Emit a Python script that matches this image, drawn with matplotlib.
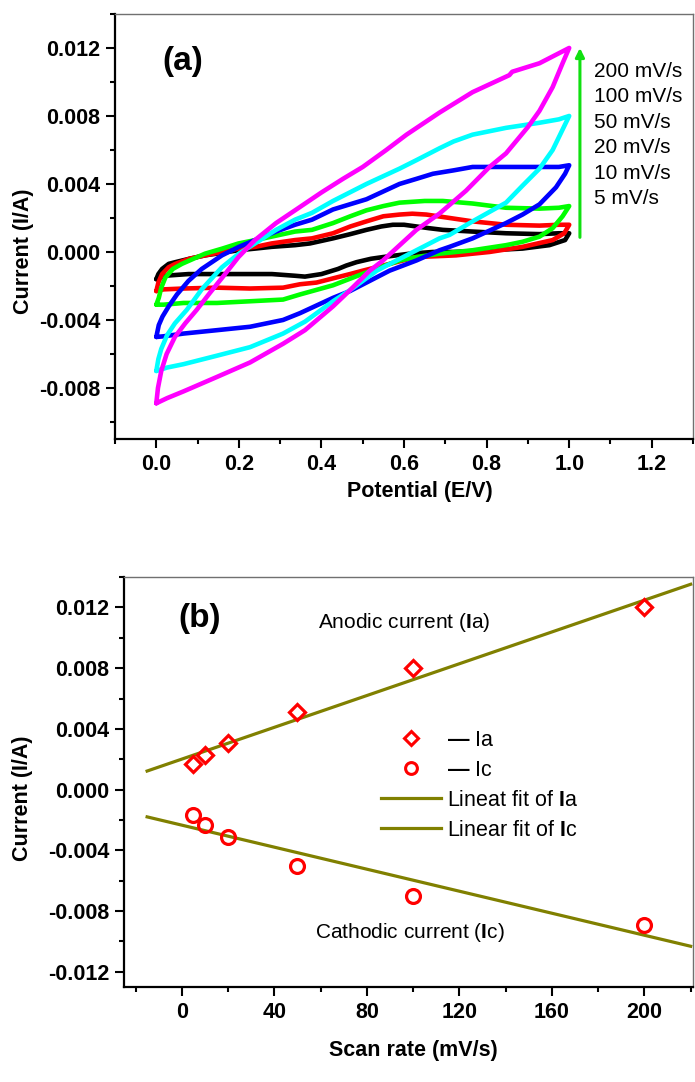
import numpy as np
import matplotlib
matplotlib.use('Agg')
import matplotlib.pyplot as plt
from matplotlib.lines import Line2D
from matplotlib.ticker import MultipleLocator, FormatStrFormatter

plt.rcParams['font.family'] = ['Liberation Sans', 'DejaVu Sans']
plt.rcParams['font.weight'] = 'bold'
plt.rcParams['axes.labelweight'] = 'bold'
plt.rcParams['mathtext.fontset'] = 'custom'
plt.rcParams['mathtext.rm'] = 'Liberation Sans'
plt.rcParams['mathtext.bf'] = 'Liberation Sans:bold'

# ---- panel (a): CV loops, forward sweep 0 -> 1 V then reverse 1 -> 0 V
e_5 = [0.0, 0.005, 0.014, 0.03, 0.046, 0.08, 0.118, 0.16, 0.199, 0.24, 0.279, 0.336, 0.372, 0.428,
       0.47, 0.509, 0.545, 0.573, 0.60, 0.63, 0.66, 0.694, 0.73, 0.766, 0.847, 0.928, 0.975, 1.0,
       0.99, 0.952, 0.887, 0.807, 0.72, 0.67, 0.614, 0.549, 0.52, 0.485, 0.46, 0.44, 0.40, 0.36,
       0.336, 0.28, 0.239, 0.15, 0.078, 0.02, 0.0]
i_5 = [-0.0016, -0.0013, -0.0010, -0.0007, -0.0006, -0.0004, -0.0002, -0.00005, 0.0001, 0.0002,
       0.0003, 0.0004, 0.0005, 0.0008, 0.00105, 0.0013, 0.0015, 0.0016, 0.0016, 0.0015, 0.0014,
       0.0013, 0.00125, 0.0012, 0.0011, 0.00105, 0.0011, 0.0011,
       0.0007, 0.0004, 0.0002, 0.0001, 0.0, 0.0, -0.0001, -0.0003, -0.0004, -0.0006, -0.0008,
       -0.0010, -0.0013, -0.00145, -0.0014, -0.0013, -0.0013, -0.0013, -0.0013, -0.0014, -0.0016]

e_10 = [0.0, 0.005, 0.014, 0.03, 0.046, 0.08, 0.118, 0.16, 0.199, 0.24, 0.279, 0.336, 0.377, 0.428,
        0.47, 0.509, 0.55, 0.589, 0.62, 0.654, 0.71, 0.766, 0.847, 0.928, 0.975, 1.0,
        0.988, 0.96, 0.887, 0.807, 0.726, 0.63, 0.549, 0.5, 0.469, 0.388, 0.348, 0.307, 0.227,
        0.147, 0.066, 0.018, 0.0]
i_10 = [-0.0023, -0.0018, -0.0013, -0.0009, -0.0007, -0.0004, -0.0002, 0.0, 0.0002, 0.0003, 0.0005,
        0.0007, 0.0008, 0.0011, 0.0015, 0.0018, 0.0021, 0.0022, 0.00225, 0.0022, 0.0020, 0.0018,
        0.0016, 0.00155, 0.0016, 0.0016,
        0.0011, 0.0007, 0.0003, 0.0, -0.0002, -0.0003, -0.0008, -0.0011, -0.0013, -0.0018, -0.0019,
        -0.0021, -0.00215, -0.0021, -0.00215, -0.0022, -0.0023]

e_20 = [0.0, 0.006, 0.012, 0.022, 0.04, 0.062, 0.09, 0.118, 0.16, 0.199, 0.24, 0.279, 0.336, 0.377,
        0.428, 0.47, 0.509, 0.55, 0.589, 0.65, 0.694, 0.766, 0.847, 0.928, 0.975, 1.0,
        0.984, 0.96, 0.928, 0.887, 0.847, 0.766, 0.686, 0.63, 0.589, 0.509, 0.428, 0.348, 0.307,
        0.227, 0.147, 0.066, 0.018, 0.0]
i_20 = [-0.0031, -0.0027, -0.0021, -0.0015, -0.0010, -0.0007, -0.0004, -0.0001, 0.0002, 0.0005,
        0.0007, 0.0009, 0.0012, 0.0013, 0.0017, 0.0021, 0.00245, 0.0027, 0.0029, 0.0030, 0.0030,
        0.00285, 0.0026, 0.00255, 0.0026, 0.0027,
        0.0021, 0.0014, 0.0009, 0.0006, 0.0004, 0.0001, -0.0001, -0.0003, -0.0005, -0.0012,
        -0.00196, -0.0025, -0.0028, -0.0029, -0.0030, -0.0030, -0.0031, -0.0031]

e_50 = [0.0, 0.006, 0.015, 0.03, 0.05, 0.078, 0.11, 0.159, 0.2, 0.239, 0.29, 0.336, 0.377, 0.428,
        0.509, 0.589, 0.63, 0.67, 0.72, 0.766, 0.847, 0.928, 0.975, 1.0,
        0.99, 0.968, 0.928, 0.887, 0.847, 0.766, 0.71, 0.686, 0.63, 0.565, 0.509, 0.469, 0.428,
        0.348, 0.307, 0.227, 0.147, 0.066, 0.018, 0.0]
i_50 = [-0.0050, -0.0043, -0.0038, -0.0032, -0.0025, -0.0017, -0.0010, -0.0002, 0.0003, 0.0007,
        0.0012, 0.0016, 0.0019, 0.0025, 0.0031, 0.0040, 0.0043, 0.0046, 0.0048, 0.0050, 0.0050,
        0.0050, 0.0050, 0.0051,
        0.0046, 0.0038, 0.0028, 0.0022, 0.0017, 0.0008, 0.0003, 0.0001, -0.0005, -0.0011, -0.0018,
        -0.0023, -0.0027, -0.0036, -0.0040, -0.0044, -0.0046, -0.0048, -0.00496, -0.0050]

e_100 = [0.0, 0.005, 0.012, 0.026, 0.045, 0.074, 0.11, 0.159, 0.2, 0.239, 0.29, 0.336, 0.377, 0.428,
         0.509, 0.589, 0.63, 0.686, 0.72, 0.766, 0.847, 0.928, 0.975, 1.0,
         0.984, 0.96, 0.928, 0.887, 0.847, 0.766, 0.71, 0.686, 0.63, 0.534, 0.469, 0.428, 0.36,
         0.307, 0.227, 0.147, 0.066, 0.026, 0.0]
i_100 = [-0.0070, -0.0063, -0.0057, -0.0049, -0.0042, -0.0034, -0.0022, -0.0009, -0.0001, 0.0005,
         0.0013, 0.0019, 0.0023, 0.0030, 0.0040, 0.0049, 0.0054, 0.0061, 0.0065, 0.0069, 0.0073,
         0.0076, 0.0078, 0.0080,
         0.0072, 0.0060, 0.0049, 0.0039, 0.0029, 0.0018, 0.0010, 0.0008, 0.0001, -0.0011, -0.00225,
         -0.0029, -0.0041, -0.0048, -0.0056, -0.0061, -0.0066, -0.0068, -0.0070]

e_200 = [0.0, 0.004, 0.012, 0.025, 0.045, 0.07, 0.098, 0.13, 0.16, 0.199, 0.239, 0.29, 0.336, 0.40,
         0.452, 0.50, 0.557, 0.606, 0.686, 0.766, 0.855, 0.862, 0.928, 0.976, 1.0,
         0.984, 0.96, 0.928, 0.90, 0.847, 0.807, 0.75, 0.686, 0.63, 0.549, 0.517, 0.469, 0.428,
         0.36, 0.307, 0.227, 0.147, 0.066, 0.026, 0.0]
i_200 = [-0.0089, -0.0080, -0.0070, -0.0060, -0.0050, -0.0042, -0.0034, -0.0024, -0.0015, -0.0003,
         0.0007, 0.0017, 0.00245, 0.0035, 0.0043, 0.0050, 0.0060, 0.0069, 0.0082, 0.0094, 0.0104,
         0.0106, 0.0111, 0.0117, 0.0120,
         0.0111, 0.0097, 0.0083, 0.00735, 0.0058, 0.0050, 0.0036, 0.00226, 0.0013, -0.0005, -0.0011,
         -0.00225, -0.0032, -0.0046, -0.0054, -0.0065, -0.00735, -0.0082, -0.0086, -0.0089]

cv_labels = ['200 mV/s', '100 mV/s', '50 mV/s', '20 mV/s', '10 mV/s', '5 mV/s']

# ---- panel (b): peak currents vs scan rate
scan_rate = [5, 10, 20, 50, 100, 200]
ia = [0.0017, 0.0023, 0.0031, 0.0051, 0.0080, 0.0120]
ic = [-0.0017, -0.0023, -0.0031, -0.0050, -0.0070, -0.0089]


def style_axes(ax):
    for side in ['left', 'bottom']:
        ax.spines[side].set_linewidth(1.6)
        ax.spines[side].set_color('black')
    for side in ['top', 'right']:
        ax.spines[side].set_linewidth(1.0)
        ax.spines[side].set_color('#707070')
    ax.tick_params(which='both', direction='out', top=False, right=False,
                   labelsize=15.5, width=1.5)
    ax.tick_params(which='major', length=6.5, pad=4)
    ax.tick_params(which='minor', length=3.5)


fig = plt.figure(figsize=(6.95, 10.82), dpi=100)

# ----------------------------- (a)
ax1 = fig.add_axes([0.1655, 0.5943, 0.8317, 0.3928])
curves = [(e_5, i_5, 'black'), (e_10, i_10, '#ff0000'), (e_20, i_20, '#00ff00'),
          (e_50, i_50, '#0000ff'), (e_100, i_100, '#00ffff'), (e_200, i_200, '#ff00ff')]
for e, i, c in curves:
    ax1.plot(e, i, color=c, lw=3.3, solid_joinstyle='round', solid_capstyle='round')

ax1.set_xlim(-0.1, 1.3)
ax1.set_ylim(-0.011, 0.014)
ax1.xaxis.set_major_locator(MultipleLocator(0.2))
ax1.xaxis.set_minor_locator(MultipleLocator(0.1))
ax1.yaxis.set_major_locator(MultipleLocator(0.004))
ax1.yaxis.set_minor_locator(MultipleLocator(0.002))
ax1.xaxis.set_major_formatter(FormatStrFormatter('%.1f'))
ax1.yaxis.set_major_formatter(FormatStrFormatter('%.3f'))
style_axes(ax1)

ax1.annotate('', xy=(1.026, 0.0120), xytext=(1.026, 0.00086),
             arrowprops=dict(arrowstyle='-|>', color='#10e010', lw=2.2, mutation_scale=13,
                             shrinkA=0, shrinkB=0))
for k, lab in enumerate(cv_labels):
    ax1.text(1.06, 0.01063 - k * 0.0015, lab, fontsize=15, fontweight='normal',
             ha='left', va='center')
ax1.text(0.065, 0.0112, '(a)', fontsize=24, ha='center', va='center')

ax1.set_xlabel('Potential (E/V)', fontsize=15.5, va='center', ha='center')
ax1.xaxis.set_label_coords(0.528, -0.124)
ax1.set_ylabel('Current (I/A)', fontsize=15.5, va='center', ha='center')
ax1.yaxis.set_label_coords(-0.159, 0.4407)

# ----------------------------- (b)
ax2 = fig.add_axes([0.1784, 0.0878, 0.8187, 0.3789])
xfit = np.array([-15, 220])
pa = np.polyfit(scan_rate, ia, 1)
pc = np.polyfit(scan_rate, ic, 1)
olive = '#808000'
ax2.plot(xfit, np.polyval(pa, xfit), color=olive, lw=2.3)
ax2.plot(xfit, np.polyval(pc, xfit), color=olive, lw=2.3)
ax2.plot(scan_rate, ia, linestyle='none', marker='D', ms=8, mfc='none', mec='#ff0000', mew=2.3)
ax2.plot(scan_rate, ic, linestyle='none', marker='o', ms=10, mfc='none', mec='#ff0000', mew=2.3)

ax2.set_xlim(-25, 221)
ax2.set_ylim(-0.013, 0.014)
ax2.xaxis.set_major_locator(MultipleLocator(40))
ax2.xaxis.set_minor_locator(MultipleLocator(20))
ax2.yaxis.set_major_locator(MultipleLocator(0.004))
ax2.yaxis.set_minor_locator(MultipleLocator(0.002))
ax2.xaxis.set_major_formatter(FormatStrFormatter('%d'))
ax2.yaxis.set_major_formatter(FormatStrFormatter('%.3f'))
style_axes(ax2)

ax2.text(7.8, 0.0113, '(b)', fontsize=24, ha='center', va='center')
ax2.text(58.9, 0.0110, r'Anodic current ($\mathbf{I}$a)', fontsize=15, fontweight='normal',
         ha='left', va='center')
ax2.text(57.6, -0.00943, r'Cathodic current ($\mathbf{I}$c)', fontsize=15, fontweight='normal',
         ha='left', va='center')

handles = [
    Line2D([], [], linestyle='none', marker='D', ms=7.5, mfc='none', mec='#ff0000', mew=2.2),
    Line2D([], [], linestyle='none', marker='o', ms=8.5, mfc='none', mec='#ff0000', mew=2.2),
    Line2D([], [], color=olive, lw=2.3),
    Line2D([], [], color=olive, lw=2.3),
]
labels = ['$\\mathbf{\u2014}$ Ia', '$\\mathbf{\u2014}$ Ic',
          r'Lineat fit of $\mathbf{I}$a', r'Linear fit of $\mathbf{I}$c']
ax2.legend(handles, labels, loc='upper left', bbox_to_anchor=(0.451, 0.628), frameon=False,
           handlelength=2.8, handletextpad=0.3, labelspacing=0.42, borderaxespad=0,
           borderpad=0, prop={'size': 15.5, 'weight': 'normal'})

ax2.set_xlabel('Scan rate (mV/s)', fontsize=15.5, va='center', ha='center')
ax2.xaxis.set_label_coords(0.508, -0.1537)
ax2.set_ylabel('Current (I/A)', fontsize=15.5, va='center', ha='center')
ax2.yaxis.set_label_coords(-0.1775, 0.461)

fig.savefig('out.png', dpi=100)
